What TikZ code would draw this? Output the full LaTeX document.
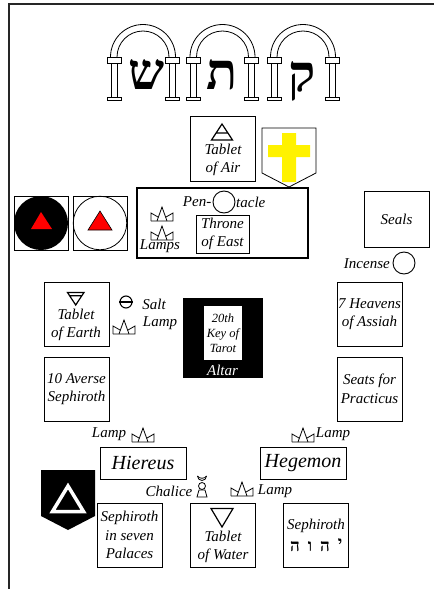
\documentclass[tikz,border=0pt]{standalone}
\usepackage{fontspec}
\setmainfont{Liberation Serif}
\newfontfamily\hebfont[Script=Hebrew]{Liberation Serif}
\TeXXeTstate=1
\tikzset{
  x=1pt,y=-1pt,
  sqbox/.style={draw=black,line width=0.9pt,inner sep=0pt,minimum width=#1,align=center,font=\fontsize{15}{18.5}\selectfont\itshape},
  sqbox/.default=65pt,
  lbl/.style={inner sep=0pt,align=center,font=\fontsize{15}{18.5}\selectfont\itshape},
  big/.style={draw=black,line width=0.9pt,inner sep=0pt,minimum width=86pt,minimum height=32pt,font=\fontsize{20}{24}\selectfont\itshape},
  sym/.style={line width=1.2pt,line join=miter},
  crownpic/.pic={
    \draw[line width=0.8pt,line join=miter] (-11,7) -- (11,7) -- (11,-1) -- (4,3);
    \draw[line width=0.8pt,line join=miter] (-4,3) -- (-11,-1) -- (-11,7);
    \draw[line width=0.8pt,line join=miter] (-5,7) -- (0,-7) -- (5,7);
  },
  archpic/.pic={
    \draw[line width=0.8pt] (-32.5,0) arc[start angle=180,end angle=0,x radius=32.5,y radius=-32.5];
    \draw[line width=0.8pt] (-26,0) arc[start angle=180,end angle=0,x radius=26,y radius=-26];
    \foreach \s in {-29,29}{
      \draw[line width=0.8pt] (\s-3,6) -- (\s-3,41) (\s+3,6) -- (\s+3,41);
      \draw[line width=0.8pt,fill=white] (\s-7,0) rectangle (\s+7,6);
      \draw[line width=0.8pt,fill=white] (\s-7,40) rectangle (\s+7,43);
    }
  }
}
\begin{document}
\begin{tikzpicture}
\useasboundingbox (0,0) rectangle (434,589);
% frame
\draw[line width=1.4pt,black!85] (9,589) -- (9,4) -- (434,4);
% arches
\pic at (143,57) {archpic};
\pic at (222.5,57) {archpic};
\pic at (303,57) {archpic};
\node (shin) [inner sep=0pt,font=\fontsize{51}{51}\hebfont\bfseries] at (146.5,75) {\beginR ש\endR};
\node (tav) [inner sep=0pt,font=\fontsize{51}{51}\hebfont\bfseries] at (222,75) {\beginR ת\endR};
\node (qof) [inner sep=0pt,font=\fontsize{51}{51}\hebfont\bfseries] at (302,81) {\beginR ק\endR};
% Tablet of Air
\node (air) [sqbox,minimum height=65pt] at (222.5,148.5) {};
\draw[sym] (222,124) -- (232.5,140) -- (211.5,140) -- cycle (216,133) -- (228,133);
\node (airt) [lbl] at (223,160) {Tablet\\of Air};
% shield and cross
\draw[line width=0.8pt] (262,128) -- (316,128) -- (316,173) -- (289,187) -- (262,173) -- cycle;
\fill[yellow] (282,133) rectangle (296,182) (268,145) rectangle (310,157);
% big box
\node (east) [draw=black,line width=1.6pt,minimum width=171pt,minimum height=70pt,inner sep=0pt] at (222.5,223) {};
\node (pen) [lbl,anchor=east] at (211.5,202) {Pen-};
\node (pent) [draw=black,line width=0.9pt,circle,minimum size=22pt,inner sep=0pt] at (224,202) {};
\node (tacle) [lbl,anchor=west] at (236,202) {tacle};
\node (throne) [sqbox=53pt,minimum height=38pt] at (222.5,234) {Throne\\of East};
\pic at (162,214) {crownpic};
\pic at (162,233) {crownpic};
\node (lamps) [lbl] at (160,246) {Lamps};
% circles
\node (b1) [draw=black,line width=0.9pt,minimum size=54pt,inner sep=0pt] at (41,223) {};
\node (c1) [fill=black,circle,minimum size=54pt,inner sep=0pt] at (41,223) {};
\fill[red] (41,212) -- (52,229) -- (31,229) -- cycle;
\node (b2) [draw=black,line width=0.9pt,minimum size=54pt,inner sep=0pt] at (100,223) {};
\node (c2) [draw=black,line width=0.8pt,circle,minimum size=53.5pt,inner sep=0pt] at (100,223) {};
\draw[fill=red,line width=0.6pt] (100,211) -- (112,230) -- (88,230) -- cycle;
% Seals
\node (seals) [sqbox,minimum height=56pt] at (396.5,219) {Seals};
\node (inc) [lbl,anchor=east] at (390,264) {Incense};
\node (incc) [draw=black,line width=0.9pt,circle,minimum size=22pt,inner sep=0pt] at (404,263) {};
% Earth
\node (earth) [sqbox,minimum height=64pt] at (76.5,314) {};
\draw[sym] (67.5,292.5) -- (84,292.5) -- (75.7,305) -- cycle (69.5,295.7) -- (82,295.7);
\node (eartht) [lbl] at (76,325) {Tablet\\of Earth};
\node (averse) [sqbox,minimum height=64pt] at (76.5,389) {10 Averse\\Sephiroth};
\node (saltc) [draw=black,line width=1.1pt,circle,minimum size=12pt,inner sep=0pt] at (126,302) {};
\draw[line width=1.1pt] (saltc.west) -- (saltc.east);
\pic at (124,327) {crownpic};
\node (salt) [lbl] at (154,304) {Salt};
\node (lamp1) [lbl] at (160,323) {Lamp};
% Altar
\fill[black] (183,298) rectangle (263,378);
\node (key) [fill=white,minimum width=38pt,minimum height=54pt,inner sep=0pt,align=center,font=\fontsize{12.5}{15}\selectfont\itshape] at (223,333) {20th\\Key of\\Tarot};
\node (altar) [lbl,text=white] at (222.5,370) {Altar};
% right column
\node (heav) [sqbox,minimum height=64pt] at (369.5,314) {7 Heavens\\of Assiah};
\node (seats) [sqbox,minimum height=64pt] at (369.5,389) {Seats for\\Practicus};
% lamps row
\node (lamp2) [lbl] at (109,434) {Lamp};
\pic at (143,435) {crownpic};
\pic at (303,435) {crownpic};
\node (lamp3) [lbl] at (333,434) {Lamp};
\node (hier) [big] at (143,463) {Hiereus};
\node (hege) [big] at (303,463) {Hegemon};
% black shield
\fill[black] (41,470) -- (95,470) -- (95,516) -- (68,530) -- (41,516) -- cycle;
\draw[white,line width=3.5pt,line join=miter] (68,486) -- (83.5,511.5) -- (52.5,511.5) -- cycle;
% chalice
\node (chal) [lbl] at (169,491) {Chalice};
\draw[line width=0.8pt] (197.5,476) arc[start angle=180,end angle=0,radius=4.5];
\draw[line width=0.8pt] (197.5,476) .. controls (199,479) and (205,479) .. (206.5,476);
\node (chalb) [draw=black,line width=0.8pt,circle,minimum size=7pt,inner sep=0pt] at (202,486) {};
\draw[line width=0.8pt] (199,490) -- (205,490) -- (207,497) -- (197,497) -- cycle;
\pic at (242,489) {crownpic};
\node (lamp4) [lbl] at (275,491) {Lamp};
% bottom row
\node (pal) [sqbox,minimum height=64pt] at (129.5,535) {Sephiroth\\in seven\\Palaces};
\node (water) [sqbox,minimum height=64pt] at (223,535) {};
\draw[sym] (211,508.5) -- (233,508.5) -- (222,527) -- cycle;
\node (watert) [lbl] at (223,547) {Tablet\\of Water};
\node (seph) [sqbox,minimum height=64pt] at (316,535) {};
\node (sepht) [lbl] at (316,526) {Sephiroth};
\node (he1) [inner sep=0pt,font=\fontsize{17}{17}\hebfont\bfseries] at (295,547) {\beginR ה\endR};
\node (vav) [inner sep=0pt,font=\fontsize{17}{17}\hebfont\bfseries] at (310,547) {\beginR ו\endR};
\node (he2) [inner sep=0pt,font=\fontsize{17}{17}\hebfont\bfseries] at (325,547) {\beginR ה\endR};
\node (yod) [inner sep=0pt,font=\fontsize{17}{17}\hebfont\bfseries] at (340,544) {\beginR י\endR};
\end{tikzpicture}
\end{document}
